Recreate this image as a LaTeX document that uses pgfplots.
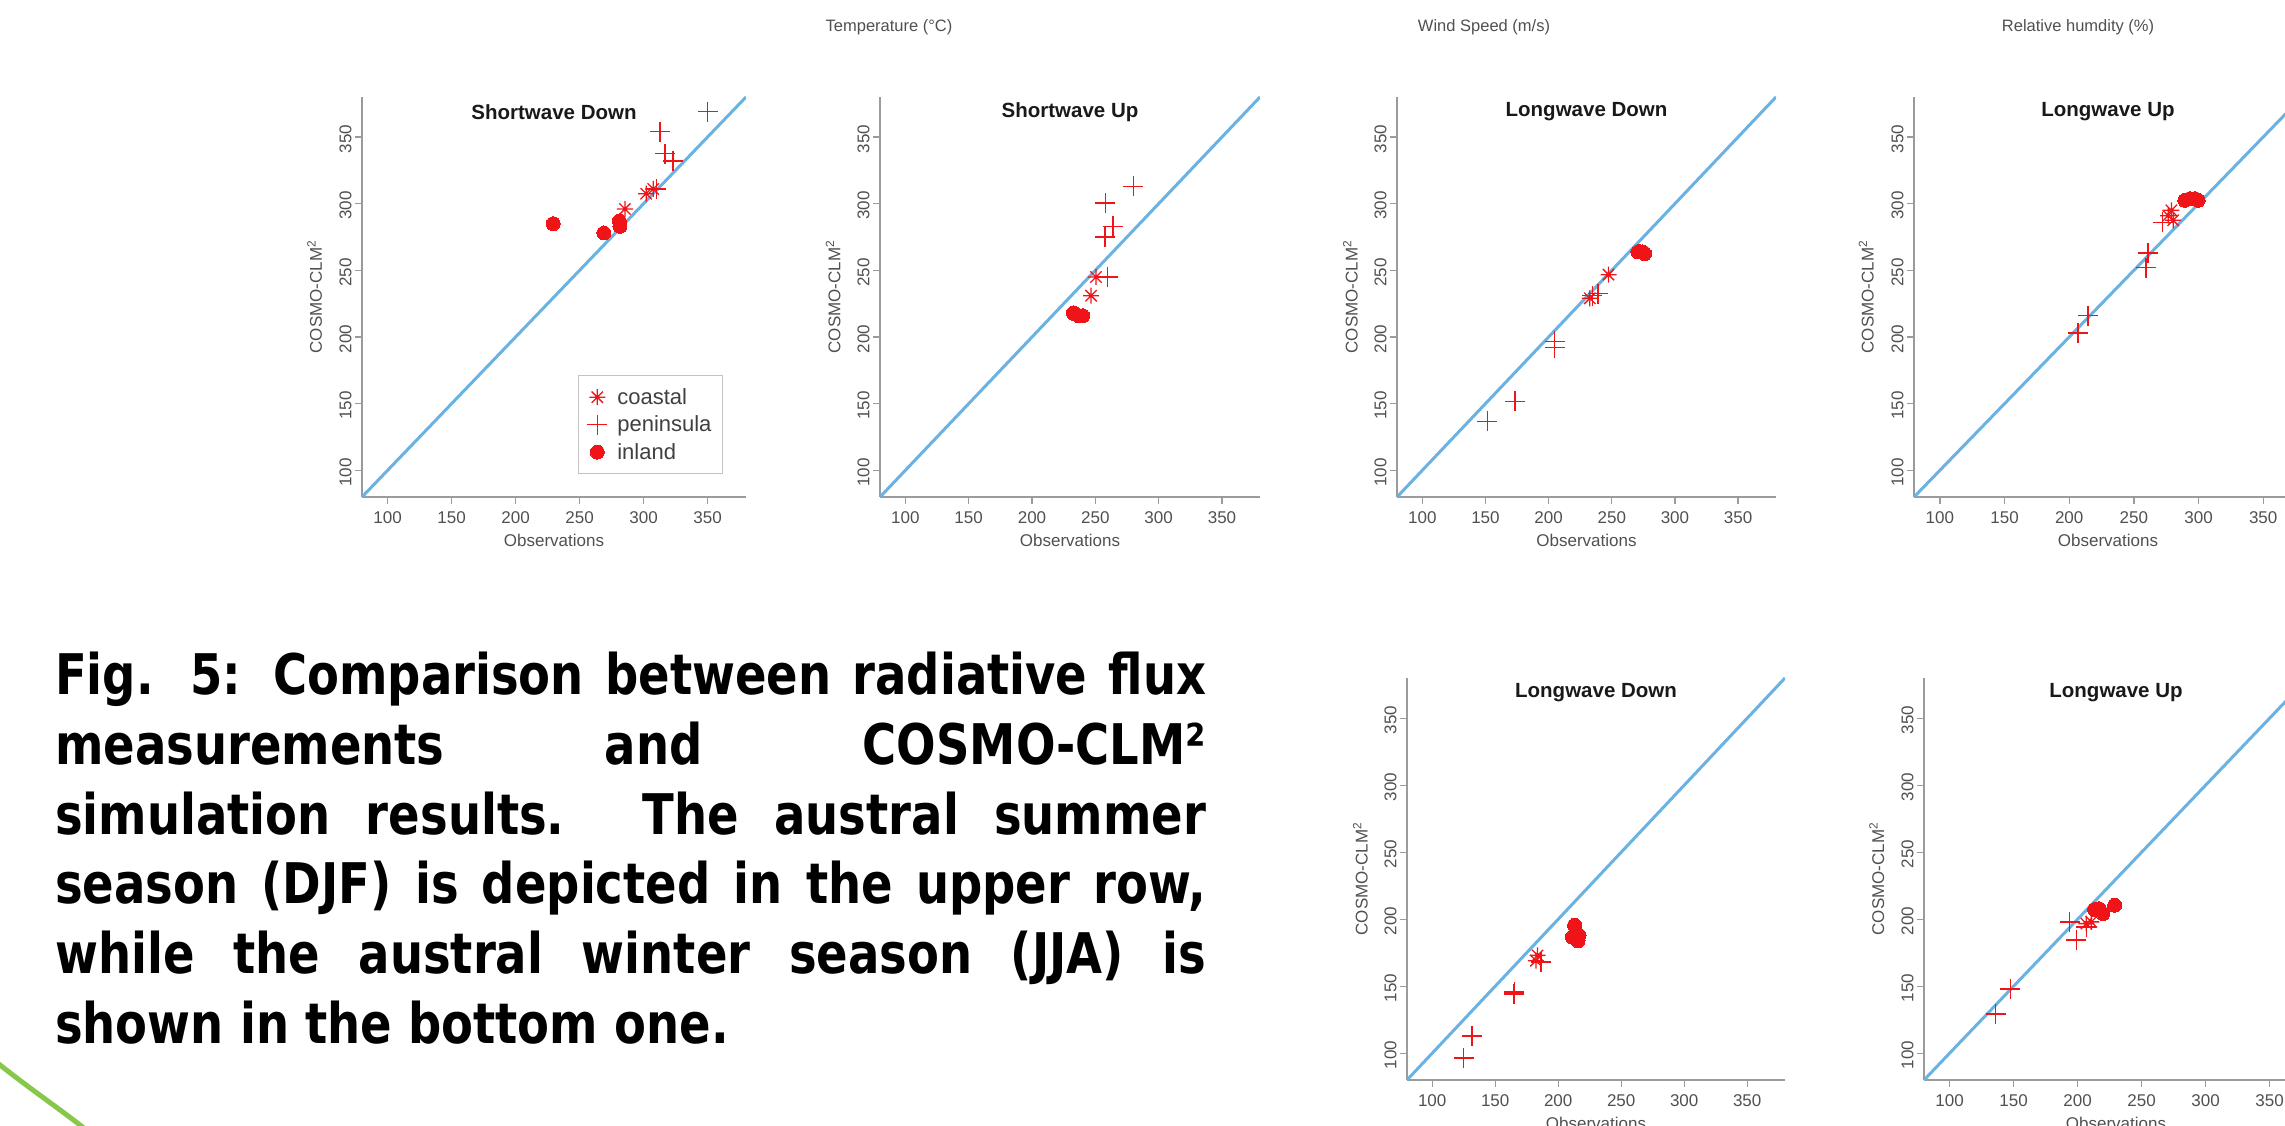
\documentclass[border=0pt]{standalone}
\usepackage{fontspec}
\setmainfont{Liberation Sans}
\newfontfamily\capfont[FakeStretch=0.83]{DejaVu Sans}
\usepackage{pgfplots}
\pgfplotsset{compat=1.18}

\definecolor{rred}{RGB}{240,20,25}
\definecolor{rblue}{RGB}{105,178,225}
\definecolor{txtgray}{RGB}{80,80,80}
\definecolor{axgray}{RGB}{155,155,155}
\definecolor{leafgreen}{RGB}{135,200,75}

\pgfdeclareplotmark{rstar}{%
  \pgfpathmoveto{\pgfqpoint{-\pgfplotmarksize}{0pt}}\pgfpathlineto{\pgfqpoint{\pgfplotmarksize}{0pt}}%
  \pgfpathmoveto{\pgfqpoint{0pt}{-\pgfplotmarksize}}\pgfpathlineto{\pgfqpoint{0pt}{\pgfplotmarksize}}%
  \pgfpathmoveto{\pgfqpoint{-.7071\pgfplotmarksize}{-.7071\pgfplotmarksize}}\pgfpathlineto{\pgfqpoint{.7071\pgfplotmarksize}{.7071\pgfplotmarksize}}%
  \pgfpathmoveto{\pgfqpoint{-.7071\pgfplotmarksize}{.7071\pgfplotmarksize}}\pgfpathlineto{\pgfqpoint{.7071\pgfplotmarksize}{-.7071\pgfplotmarksize}}%
  \pgfusepathqstroke}

\tikzset{ptitle/.style={font=\fontsize{20.5}{24}\selectfont\bfseries, text=black!90}}

\pgfplotsset{
  rpanel/.style={
    scale only axis, xmin=80, xmax=380, ymin=80, ymax=380,
    axis lines*=left, axis line style={-, draw=axgray, line width=1.3pt},
    tick align=outside, major tick length=7pt,
    every tick/.style={draw=axgray, line width=1.3pt},
    xtick={100,150,200,250,300,350}, ytick={100,150,200,250,300,350},
    /pgf/number format/assume math mode=true,
    ticklabel style={font=\fontsize{17}{20}\selectfont, text=txtgray},
    xticklabel style={yshift=-4pt},
    yticklabel style={rotate=90, anchor=south, xshift=-2pt},
    xlabel={Observations}, ylabel={COSMO-CLM\textsuperscript{2}},
    label style={font=\fontsize{17}{20}\selectfont, text=txtgray},
    xlabel style={at={(axis description cs:0.5,0)}, yshift=-43pt, anchor=center},
    ylabel style={at={(axis description cs:-0.123,0.5)}, anchor=center},
  },
  coastal/.style={only marks, mark=rstar, mark size=8pt, color=rred, mark options={line width=1.3pt, draw=rred}},
  peninsula/.style={only marks, mark=+, mark size=10pt, color=rred, mark options={line width=1.6pt, draw=rred}},
  inland/.style={only marks, mark=*, mark size=7pt, color=rred, mark options={draw=rred, fill=rred, line width=0pt}},
  diag/.style={rblue, line width=3pt, forget plot},
}

\begin{document}
\begin{tikzpicture}
\begin{scope}[x=1pt,y=1pt]
\clip (0,0) rectangle (2285,1125);
% axis titles of the upper row of panels (cut off above)
\node[anchor=base, font=\fontsize{16.5}{19}\selectfont, text=txtgray] at (889,1093) {Temperature (°C)};
\node[anchor=base, font=\fontsize{16.5}{19}\selectfont, text=txtgray] at (1484,1093) {Wind Speed (m/s)};
\node[anchor=base, font=\fontsize{16.5}{19}\selectfont, text=txtgray] at (2078,1093) {Relative humdity (\%)};
% caption
\begin{scope}[every node/.style={anchor=base west, inner sep=0pt, font=\capfont\bfseries\fontsize{56}{69}\selectfont}]
\node at (55,430) {\makebox[1151pt][s]{Fig. 5: Comparison between radiative flux}};
\node at (55,360.4) {\makebox[1151pt][s]{measurements and COSMO-CLM²}};
\node at (55,290.8) {\makebox[1151pt][s]{simulation results. The austral summer}};
\node at (55,221.2) {\makebox[1151pt][s]{season (DJF) is depicted in the upper row,}};
\node at (55,151.6) {\makebox[1151pt][s]{while the austral winter season (JJA) is}};
\node at (55,82) {shown in the bottom one.};
\end{scope}
\draw[leafgreen, line width=5pt] (-5,64) .. controls (30,36) and (60,16) .. (85,-4);
\end{scope}

% ---------------- upper row (DJF) ----------------
\begin{axis}[rpanel, at={(362pt,628pt)}, anchor=south west, width=384pt, height=400pt,
  legend style={at={(0.562,0.305)}, anchor=north west, draw=axgray!60, line width=1pt,
    font=\fontsize{22}{26}\selectfont, text=black!75, inner xsep=9pt, inner ysep=11pt,
    row sep=6pt, column sep=8pt},
  legend image code/.code={\draw[mark repeat=2,mark phase=2] plot coordinates {(0pt,0pt) (11pt,0pt) (22pt,0pt)};},
  legend cell align=left]
\addplot[diag] coordinates {(80,80) (380,380)};
\addplot[coastal] coordinates {(285.4,296) (302,307.5) (307.5,311)};
\addplot[peninsula] coordinates {(350,369) (312.8,354) (316.7,337.5) (323,332) (310,311)};
\addplot[inland] coordinates {(229.4,285) (269,278) (281,287) (281.5,283)};
\legend{coastal, peninsula, inland}
\node[ptitle] at (rel axis cs:0.5,0.963) {Shortwave Down};
\end{axis}

\begin{axis}[rpanel, at={(880pt,628pt)}, anchor=south west, width=380pt, height=400pt]
\addplot[diag] coordinates {(80,80) (380,380)};
\addplot[coastal] coordinates {(250.5,245) (246.6,231)};
\addplot[peninsula] coordinates {(280,313) (257.9,300.5) (263.7,283) (257.4,275) (259.7,245)};
\addplot[inland] coordinates {(232.6,218) (236.8,216) (240,216) (234.5,217)};
\node[ptitle] at (rel axis cs:0.5,0.963) {Shortwave Up};
\end{axis}

\begin{axis}[rpanel, at={(1397pt,628pt)}, anchor=south west, width=379pt, height=400pt]
\addplot[diag] coordinates {(80,80) (380,380)};
\addplot[coastal] coordinates {(232.6,229) (247.4,246.75)};
\addplot[peninsula] coordinates {(151.5,136.75) (173.4,151.75) (204.8,196.75) (204.8,192) (234.6,231) (239,232.5)};
\addplot[inland] coordinates {(270.7,263.75) (272,264) (274.7,263.75) (276,262.5)};
\node[ptitle] at (rel axis cs:0.5,0.963) {Longwave Down};
\end{axis}

\begin{axis}[rpanel, at={(1914pt,628pt)}, anchor=south west, width=388pt, height=400pt]
\addplot[diag] coordinates {(80,80) (380,380)};
\addplot[coastal] coordinates {(279,295) (280.4,287.5) (276.5,291)};
\addplot[peninsula] coordinates {(207,203) (214.7,216) (259.3,252) (261,263) (272.2,286)};
\addplot[inland] coordinates {(289.4,302.5) (293.3,303.75) (297.2,303.75) (299.7,302.5)};
\node[ptitle] at (rel axis cs:0.5,0.963) {Longwave Up};
\end{axis}

% ---------------- lower row (JJA) ----------------
\begin{axis}[rpanel, at={(1407pt,45pt)}, anchor=south west, width=378pt, height=402pt]
\addplot[diag] coordinates {(80,80) (380,380)};
\addplot[coastal] coordinates {(183.6,173) (182.3,169)};
\addplot[peninsula] coordinates {(124.9,96.5) (131.5,112.7) (165.3,145.6) (164.8,144.4) (186.2,168)};
\addplot[inland] coordinates {(213,195.5) (211.2,186.7) (216.5,188) (215.7,183.8)};
\node[ptitle] at (rel axis cs:0.5,0.963) {Longwave Down};
\end{axis}

\begin{axis}[rpanel, at={(1924pt,45pt)}, anchor=south west, width=384pt, height=402pt]
\addplot[diag] coordinates {(80,80) (380,380)};
\addplot[coastal] coordinates {(206.8,196.7) (210.7,198)};
\addplot[peninsula] coordinates {(135.9,129.4) (147.4,148.1) (193.75,198) (199,184.7) (206.8,194.2)};
\addplot[inland] coordinates {(213.3,207.2) (216.7,207.9) (219.8,204.2) (228.9,210.4)};
\node[ptitle] at (rel axis cs:0.5,0.963) {Longwave Up};
\end{axis}

\pgfresetboundingbox
\path[use as bounding box] (0pt,0pt) rectangle (2285pt,1125pt);
\end{tikzpicture}
\end{document}
